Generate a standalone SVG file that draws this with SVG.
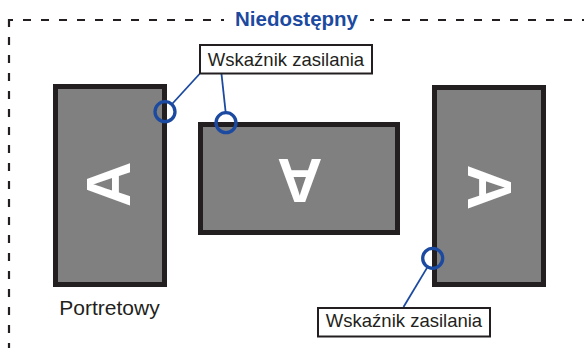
<svg xmlns="http://www.w3.org/2000/svg" width="584" height="348" viewBox="0 0 584 348">
<style>
.dash{fill:none;stroke:#231f20;stroke-width:2.2;stroke-dasharray:8 10}
.mon{fill:#808080;stroke:#231f20;stroke-width:5}
.big{font-family:"Liberation Sans",Arial,sans-serif;font-weight:bold;font-size:63px;fill:#ffffff;text-anchor:middle}
.led{fill:none;stroke:#1c4aa0;stroke-width:3.3}
.conn{stroke:#1c4aa0;stroke-width:1.8;fill:none}
.box{fill:#ffffff;stroke:#231f20;stroke-width:2}
.lbl{font-family:"Liberation Sans",Arial,sans-serif;font-size:18.5px;fill:#231f20;text-anchor:middle}
</style>
<rect width="584" height="348" fill="#ffffff"/>
<g id="border">
<line class="dash" x1="9" y1="19" x2="9" y2="348"/>
<line class="dash" x1="8" y1="20" x2="224" y2="20" stroke-dashoffset="3"/>
<line class="dash" x1="370" y1="20" x2="584" y2="20" stroke-dashoffset="4"/>
<text x="296.5" y="26" font-family="'Liberation Sans',Arial,sans-serif" font-weight="bold" font-size="20.5" fill="#1c4aa0" text-anchor="middle">Niedostępny</text>
</g>
<g id="monitor-left">
<rect class="mon" x="55.5" y="86.5" width="109" height="198"/>
<text class="big" transform="translate(107.5,184.2) rotate(-90)" x="0" y="22.5">A</text>
</g>
<g id="monitor-middle">
<rect class="mon" x="200.5" y="124.5" width="197" height="108"/>
<text class="big" transform="translate(299.7,181.3) rotate(180)" x="0" y="22.5">A</text>
</g>
<g id="monitor-right">
<rect class="mon" x="434.5" y="87.5" width="109" height="197"/>
<text class="big" transform="translate(490,187.5) rotate(90)" x="0" y="22.5">A</text>
</g>
<g id="connectors">
<line class="conn" x1="199.5" y1="74" x2="171.6" y2="104.5"/>
<line class="conn" x1="221.5" y1="74" x2="225.7" y2="112.7"/>
<line class="conn" x1="403.5" y1="307" x2="427.6" y2="266.9"/>
</g>
<g id="leds">
<circle class="led" cx="165" cy="111.7" r="10"/>
<circle class="led" cx="226" cy="122.7" r="10"/>
<circle class="led" cx="432.7" cy="258.3" r="10"/>
</g>
<g id="label-top">
<rect class="box" x="200" y="45" width="172" height="28.5"/>
<text class="lbl" x="286" y="65.5">Wskaźnik zasilania</text>
</g>
<g id="label-bottom">
<rect class="box" x="318" y="308" width="172" height="28.5"/>
<text class="lbl" x="404" y="326.5">Wskaźnik zasilania</text>
</g>
<g id="label-portrait">
<text x="109.5" y="315" font-family="'Liberation Sans',Arial,sans-serif" font-size="21" fill="#231f20" text-anchor="middle">Portretowy</text>
</g>
</svg>
